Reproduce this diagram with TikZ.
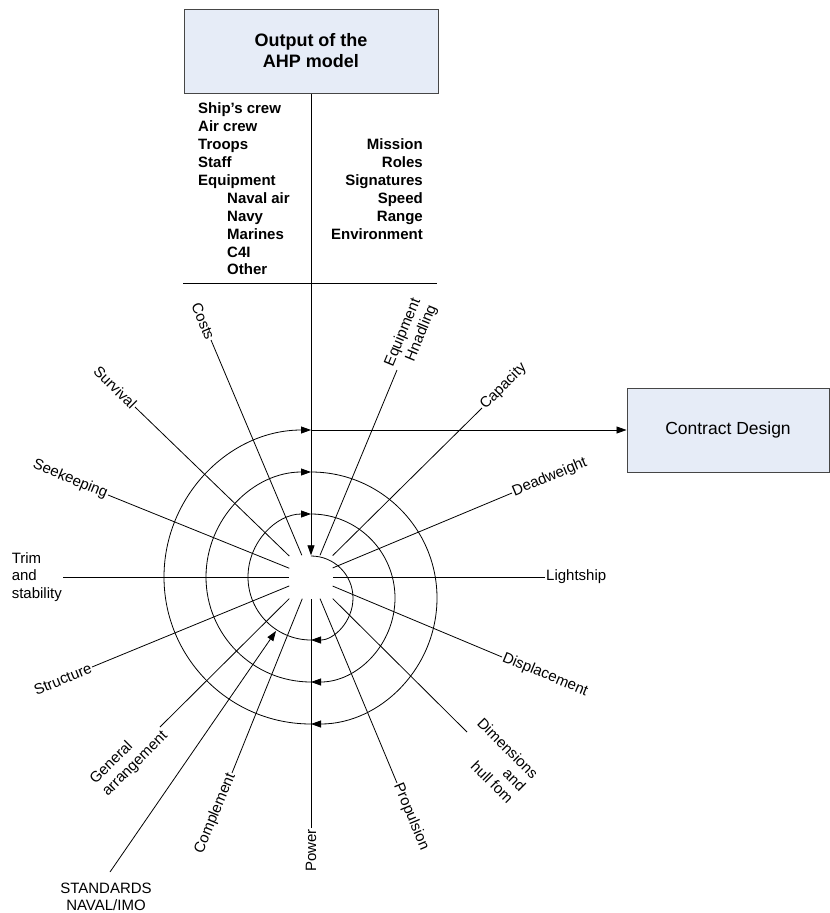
\documentclass[tikz,border=0pt]{standalone}
\usepackage{fontspec}
\setmainfont{Liberation Sans}
\usetikzlibrary{arrows.meta}
\definecolor{boxfill}{RGB}{230,236,247}
\definecolor{boxline}{RGB}{70,70,70}
\begin{document}
\begin{tikzpicture}[x=1pt,y=-1pt,
  box/.style={draw=boxline, fill=boxfill, line width=1pt},
  lbl/.style={font=\fontsize{15}{17.5}\selectfont, inner sep=1pt},
  lst/.style={font=\fontsize{15}{18}\selectfont\bfseries, inner sep=0pt},
  wire/.style={line width=0.8pt, draw=black},
  arr/.style={-{Triangle[length=10pt,width=7pt]}}]
\useasboundingbox (0,0) rectangle (830,913);

% boxes
\node[box, minimum width=254, minimum height=84, align=center,
      font=\fontsize{18}{21}\selectfont\bfseries] (ahp) at (311,51) {Output of the\\AHP model};
\node[box, minimum width=202, minimum height=84,
      font=\fontsize{17.5}{21}\selectfont] (cd) at (728,430) {Contract Design};
\node[minimum size=43, inner sep=0] (hub) at (311,577) {};

% lists
\foreach \txt/\x/\y [count=\i] in {Ship's crew/198/113, Air crew/198/131, Troops/198/149,
  Staff/198/167, Equipment/198/185, Naval air/227/203, Navy/227/221, Marines/227/239,
  C4I/227/257, Other/227/274}
  \node[lst, anchor=base west] (L\i) at (\x,\y) {\txt};
\foreach \txt/\y [count=\i] in {Mission/149, Roles/167, Signatures/185, Speed/203,
  Range/221, Environment/239}
  \node[lst, anchor=base east] (R\i) at (423,\y) {\txt};

% rule and main arrow
\coordinate (rl) at (183,283);
\coordinate (rr) at (437,283);
\draw[wire] (rl) -- (rr);
\draw[wire, arr] (ahp.south) -- (hub.north);

% spiral
\draw[wire,arr] (311,556) arc[start angle=-90,end angle=90,radius=42];
\draw[wire,arr] (311,640) arc[start angle=90,end angle=270,radius=63];
\draw[wire,arr] (311,514) arc[start angle=-90,end angle=90,radius=84];
\draw[wire,arr] (311,682) arc[start angle=90,end angle=270,radius=105];
\draw[wire,arr] (311,472) arc[start angle=-90,end angle=90,radius=126];
\draw[wire,arr] (311,724) arc[start angle=90,end angle=270,radius=147];
\coordinate (sp) at (311,430);
\draw[wire,arr] (sp) -- (cd.west);

% spokes, left side (text reads toward centre)
\node[lbl, rotate=-67.5, anchor=east] (costs) at (211,340) {Costs};
\node[lbl, rotate=-45, anchor=east] (surv) at (135,407) {Survival};
\node[lbl, rotate=-22.5, anchor=east] (seek) at (108,495) {Seekeeping};
\node[lbl, align=left, anchor=east] (trim) at (63,577) {Trim\\and\\stability};
\node[lbl, rotate=22.5, anchor=east] (struct) at (92,667) {Structure};
\node[lbl, rotate=45, anchor=east, align=left] (ga) at (160,727) {General\\arrangement};
\node[lbl, rotate=67.5, anchor=east] (comp) at (232,773) {Complement};
\node[lbl, rotate=90, anchor=east] (power) at (311,828) {Power};
% spokes, right side (text reads outward)
\node[lbl, rotate=-67.5, anchor=west] (prop) at (397,783) {Propulsion};
\node[lbl, rotate=-45, anchor=west, align=right] (dim) at (467,732) {Dimensions\\and\\hull fom};
\node[lbl, rotate=-22.5, anchor=west] (disp) at (502,657) {Displacement};
\node[lbl, anchor=west] (light) at (545,577) {Lightship};
\node[lbl, rotate=22.5, anchor=west] (dead) at (512,493) {Deadweight};
\node[lbl, rotate=45, anchor=west] (cap) at (482,408) {Capacity};
\node[lbl, rotate=67.5, anchor=west, align=right] (eqh) at (397,370) {Equipment\\Hnadling};

\foreach \n in {costs,surv,seek,trim,struct,ga,comp,power}
  \draw[wire] (\n.east) -- (hub);
\foreach \n in {prop,dim,disp,light,dead,cap,eqh}
  \draw[wire] (\n.west) -- (hub);

% standards
\node[lbl, align=center] (std) at (106,897) {STANDARDS\\NAVAL/IMO};
\coordinate (stdfoot) at (110,872);
\coordinate (stdtip) at (276,631);
\draw[wire,arr] (stdfoot) -- (stdtip);
\end{tikzpicture}
\end{document}
